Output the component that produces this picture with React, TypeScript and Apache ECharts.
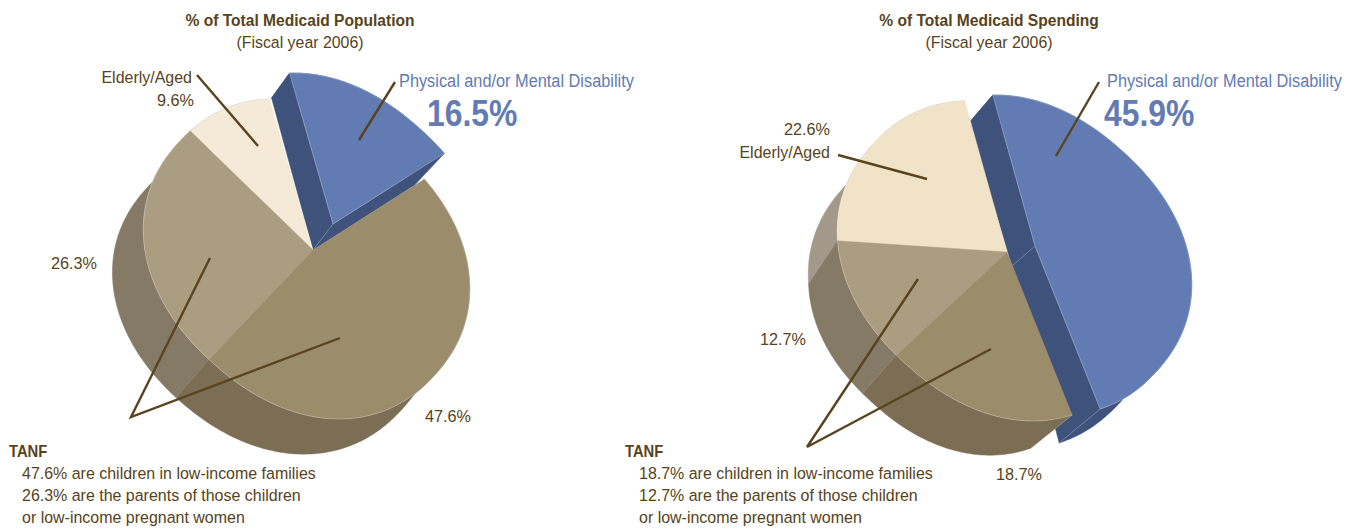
import React, { useEffect, useRef } from "react";
import * as echarts from "echarts";

// Enrollment and spending shares by eligibility group, fiscal year 2006.
const groupNames = ["Physical and/or Mental Disability", "TANF children", "TANF parents", "Elderly/Aged"];
const populationShares = [16.5, 47.6, 26.3, 9.6];
const spendingShares = [45.9, 18.7, 12.7, 22.6];

const INK = "#574320";
const LEADER = "#5a4420";
const BLUE = "#627bb3";
const SANS = '"Liberation Sans", Arimo, sans-serif';

type Pt = [number, number];

// Perspective pie: the rim is a slightly squared, tilted ellipse whose centre sits off the apex.
const TILT = (42 * Math.PI) / 180;
const SEMI_MAJOR = 173;
const SEMI_MINOR = 140;
const RIM_POWER = 0.92;

interface PieLook {
  apex: Pt;
  ellipse: Pt;
  startDeg: number;
  tops: string[];
  walls: string[];
  explode: Pt;
  // wall depth at the first and last rim corner of each slice
  wallDepth: [Pt, Pt][];
  // wall depth under the apex of the lifted slice
  apexDepth: Pt;
}

const populationLook: PieLook = {
  apex: [313, 250],
  ellipse: [306.5, 259],
  startDeg: 139.5,
  tops: [BLUE, "#9b8c6c", "#aa9d82", "#f4ead7"],
  walls: ["#3f527b", "#7b6e54", "#857a66", "#a3998a"],
  explode: [20, -26],
  wallDepth: [
    [[-18, 25], [-30, 32]],
    [[-30, 28], [-33, 38]],
    [[-33, 38], [-29, 43]],
    [[-29, 43], [-29, 43]],
  ],
  apexDepth: [-20, 26],
};

const spendingLook: PieLook = {
  apex: [1007, 252],
  ellipse: [1000.5, 261],
  startDeg: 139,
  tops: [BLUE, "#9b8c6c", "#aa9d82", "#f1e3c8"],
  walls: ["#3f527b", "#7b6e54", "#857a66", "#a3998a"],
  explode: [28, -6],
  wallDepth: [
    [[-24, 28], [-41, 34]],
    [[-41, 33], [-34, 38]],
    [[-34, 38], [-29, 43]],
    [[-29, 43], [-29, 43]],
  ],
  apexDepth: [-23, 20],
};

const signedPow = (x: number) => Math.sign(x) * Math.pow(Math.abs(x), RIM_POWER);

function rimPoint(look: PieLook, deg: number): Pt {
  const t = (deg * Math.PI) / 180;
  const u = SEMI_MAJOR * signedPow(Math.cos(t));
  const v = SEMI_MINOR * signedPow(Math.sin(t));
  return [
    look.ellipse[0] + u * Math.cos(TILT) + v * Math.sin(TILT),
    look.ellipse[1] + u * Math.sin(TILT) - v * Math.cos(TILT),
  ];
}

const shift = (p: Pt, d: Pt): Pt => [p[0] + d[0], p[1] + d[1]];
const lerp = (a: Pt, b: Pt, k: number): Pt => [a[0] + (b[0] - a[0]) * k, a[1] + (b[1] - a[1]) * k];

function pieSeries(name: string, shares: number[], look: PieLook) {
  const total = shares.reduce((s, v) => s + v, 0);
  const startOf: number[] = [];
  let running = look.startDeg;
  shares.forEach((v, i) => {
    startOf[i] = running;
    running -= (v / total) * 360;
  });
  // The lifted slice is painted first; the others follow back to front.
  const paintOrder = [0, 3, 2, 1];

  return {
    type: "custom",
    name,
    coordinateSystem: "none",
    silent: true,
    data: paintOrder.map((i) => ({ name: groupNames[i], value: [shares[i], i] })),
    renderItem: (_params: any, api: any) => {
      const value = api.value(0) as number;
      const i = api.value(1) as number;
      const from = startOf[i];
      const sweep = (value / total) * 360;
      const lifted = i === 0;
      const off: Pt = lifted ? look.explode : [0, 0];
      const steps = Math.max(2, Math.ceil(sweep / 1.5));
      const rim: Pt[] = [];
      for (let s = 0; s <= steps; s++) rim.push(shift(rimPoint(look, from - (sweep * s) / steps), off));
      const [depthA, depthB] = look.wallDepth[i];
      const under = rim.map((p, s) => shift(p, lerp(depthA, depthB, s / steps))).reverse();
      const apex = shift(look.apex, off);
      const children: any[] = [];
      const wallFill = look.walls[i];
      children.push({
        type: "polygon",
        shape: { points: [...rim, ...under] },
        style: { fill: wallFill, stroke: wallFill, lineWidth: 0.5 },
      });
      if (lifted) {
        const apexUnder = shift(apex, look.apexDepth);
        children.push({
          type: "polygon",
          shape: { points: [rim[0], apex, apexUnder, under[under.length - 1]] },
          style: { fill: wallFill, stroke: wallFill, lineWidth: 0.5 },
        });
        children.push({
          type: "polygon",
          shape: { points: [apex, rim[steps], under[0], apexUnder] },
          style: { fill: wallFill, stroke: wallFill, lineWidth: 0.5 },
        });
        children.push({
          type: "line",
          shape: { x1: apex[0], y1: apex[1], x2: apexUnder[0], y2: apexUnder[1] },
          style: { stroke: "rgba(255,255,255,0.35)", lineWidth: 0.6 },
        });
        children.push({
          type: "line",
          shape: { x1: rim[steps][0], y1: rim[steps][1], x2: under[0][0], y2: under[0][1] },
          style: { stroke: "rgba(255,255,255,0.35)", lineWidth: 0.6 },
        });
      } else {
        children.push({
          type: "line",
          shape: { x1: rim[0][0], y1: rim[0][1], x2: under[steps][0], y2: under[steps][1] },
          style: { stroke: "rgba(255,255,255,0.4)", lineWidth: 0.6 },
        });
      }
      const topFill = look.tops[i];
      children.push({
        type: "polygon",
        shape: { points: [apex, ...rim] },
        style: { fill: topFill, stroke: topFill, lineWidth: 0.4 },
      });
      children.push({
        type: "polyline",
        shape: { points: rim },
        style: { fill: "none", stroke: "rgba(255,255,255,0.4)", lineWidth: 0.6 },
      });
      if (lifted) {
        children.push({
          type: "polyline",
          shape: { points: [rim[0], apex, rim[steps]] },
          style: { fill: "none", stroke: "rgba(255,255,255,0.4)", lineWidth: 0.6 },
        });
      }
      return { type: "group", children };
    },
  };
}

// Text is condensed horizontally to get a narrow grotesque setting.
function label(text: string, x: number, y: number, size: number, squeeze: number, opts: any = {}) {
  return {
    type: "text",
    x,
    y,
    scaleX: squeeze,
    z: 100,
    silent: true,
    style: {
      text,
      fill: opts.fill ?? INK,
      fontFamily: SANS,
      fontSize: size,
      fontWeight: opts.bold ? "bold" : "normal",
      textAlign: opts.align ?? "left",
      textVerticalAlign: "middle",
    },
  };
}

function leader(points: Pt[]) {
  return {
    type: "polyline",
    z: 99,
    silent: true,
    shape: { points },
    style: { fill: "none", stroke: LEADER, lineWidth: 2.4 },
  };
}

const pct = (v: number) => `${v.toFixed(1)}%`;

function annotations() {
  const [pDis, pKids, pParents, pOld] = populationShares;
  const [sDis, sKids, sParents, sOld] = spendingShares;
  const bodySqueeze = 0.94;
  return [
    label("% of Total Medicaid Population", 300, 20, 17, 0.917, { bold: true, align: "center" }),
    label("(Fiscal year 2006)", 300, 42, 17, 0.935, { align: "center" }),
    label("% of Total Medicaid Spending", 989, 20, 17, 0.917, { bold: true, align: "center" }),
    label("(Fiscal year 2006)", 989, 42, 17, 0.935, { align: "center" }),

    label(groupNames[3], 192, 77, 17, bodySqueeze, { align: "right" }),
    label(pct(pOld), 194, 100, 17, 0.955, { align: "right" }),
    label(groupNames[0], 399, 81, 18, 0.907, { fill: BLUE }),
    label(pct(pDis), 427, 113, 37.5, 0.85, { fill: BLUE, bold: true }),
    label(pct(pParents), 51, 263, 17, 0.955),
    label(pct(pKids), 425, 416, 17, 0.955),
    label("TANF", 9, 451, 17, 0.87, { bold: true }),
    label(`${pct(pKids)} are children in low-income families`, 22, 473, 17, bodySqueeze),
    label(`${pct(pParents)} are the parents of those children`, 22, 495, 17, bodySqueeze),
    label("or low-income pregnant women", 22, 517, 17, bodySqueeze),

    label(pct(sOld), 830, 129, 17, 0.955, { align: "right" }),
    label(groupNames[3], 830, 152, 17, bodySqueeze, { align: "right" }),
    label(groupNames[0], 1107, 81, 18, 0.907, { fill: BLUE }),
    label(pct(sDis), 1104, 113, 37.5, 0.85, { fill: BLUE, bold: true }),
    label(pct(sParents), 760, 339, 17, 0.955),
    label(pct(sKids), 996, 474, 17, 0.955),
    label("TANF", 625, 451, 17, 0.87, { bold: true }),
    label(`${pct(sKids)} are children in low-income families`, 639, 473, 17, bodySqueeze),
    label(`${pct(sParents)} are the parents of those children`, 639, 495, 17, bodySqueeze),
    label("or low-income pregnant women", 639, 517, 17, bodySqueeze),

    leader([[197, 75], [258, 146]]),
    leader([[395, 82], [359, 140]]),
    leader([[210, 258], [131, 417], [340, 338]]),
    leader([[1099, 82], [1056, 156]]),
    leader([[838, 155], [927, 179]]),
    leader([[918, 279], [807, 447], [991, 349]]),
  ];
}

export default function App() {
  const ref = useRef<HTMLDivElement>(null);
  useEffect(() => {
    const chart = echarts.init(ref.current!, undefined, { renderer: "svg" });
    chart.setOption({
      animation: false,
      backgroundColor: "#ffffff",
      series: [
        pieSeries("% of Total Medicaid Population", populationShares, populationLook),
        pieSeries("% of Total Medicaid Spending", spendingShares, spendingLook),
      ],
      graphic: annotations(),
    });
    return () => chart.dispose();
  }, []);
  return <div ref={ref} style={{ position: "fixed", left: 0, top: 0, width: 1356, height: 529 }} />;
}
